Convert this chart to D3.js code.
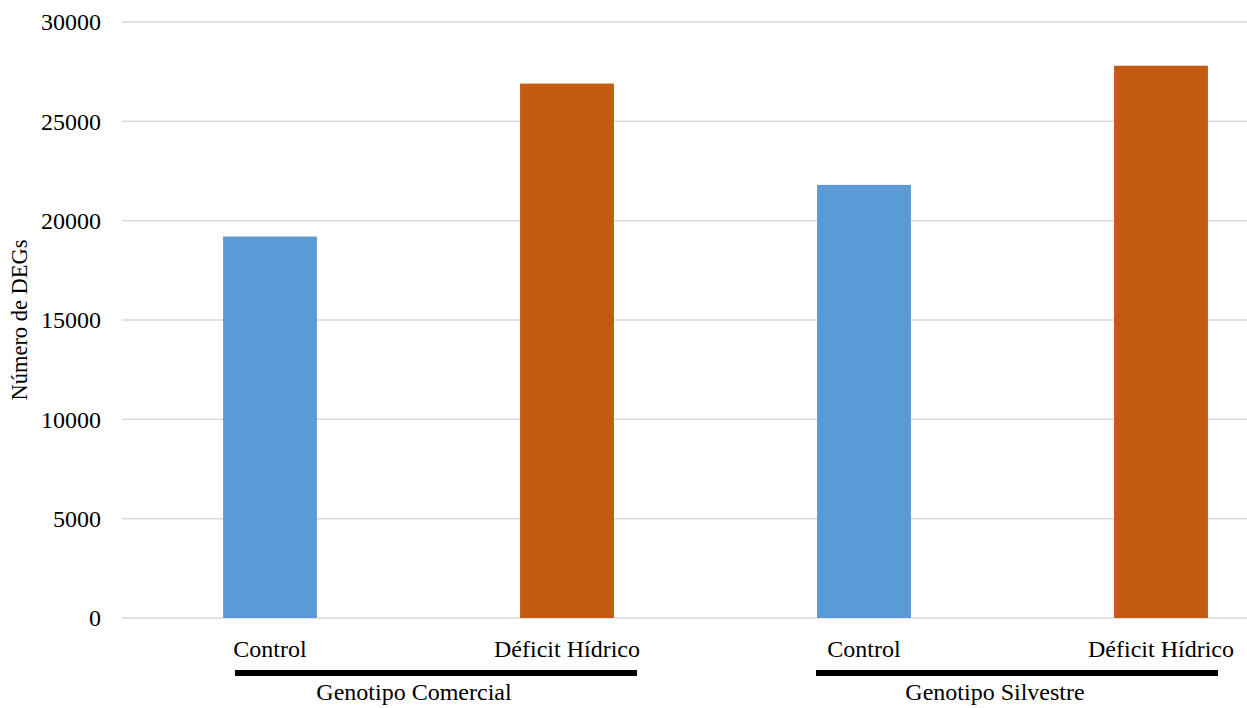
<!DOCTYPE html>
<html>
<head>
<meta charset="utf-8">
<script src="https://cdn.jsdelivr.net/npm/d3@7"></script>
<style>
  body { margin: 0; background: #fff; }
  text { font-family: "Liberation Serif", "Times New Roman", serif; fill: #000; }
</style>
</head>
<body>
<div id="chart"></div>
<script>
// data
var categories = ["Control", "Déficit Hídrico", "Control ", "Déficit Hídrico "];
var labels = ["Control", "Déficit Hídrico", "Control", "Déficit Hídrico"];
var values = [19200, 26900, 21800, 27800];
var colors = ["#5B9BD5", "#C55A11", "#5B9BD5", "#C55A11"];
var groups = ["Genotipo Comercial", "Genotipo Silvestre"];
var yTicks = [0, 5000, 10000, 15000, 20000, 25000, 30000];

var w = 1247, h = 708;
var margin = {left: 122, top: 22, bottom: 90};
var plotBottom = h - margin.bottom; // 618

var svg = d3.select("#chart").append("svg")
    .attr("width", w)
    .attr("height", h);

var x = d3.scaleBand()
    .domain(categories)
    .range([121.5, 1309.5])
    .paddingInner(0.684)
    .paddingOuter(0.342);

var y = d3.scaleLinear()
    .domain([0, 30000])
    .range([plotBottom, margin.top]);

// gridlines
svg.append("g").selectAll("line")
    .data(yTicks)
    .enter().append("line")
    .attr("x1", margin.left)
    .attr("x2", w)
    .attr("y1", d => y(d))
    .attr("y2", d => y(d))
    .attr("stroke", "#d9d9d9")
    .attr("stroke-width", 1.5);

// tick labels
svg.append("g").selectAll("text")
    .data(yTicks)
    .enter().append("text")
    .attr("x", 101)
    .attr("y", d => y(d))
    .attr("dy", "0.35em")
    .attr("text-anchor", "end")
    .style("font-size", "24px")
    .text(d => d);

// bars
svg.append("g").selectAll("rect")
    .data(values)
    .enter().append("rect")
    .attr("x", (d, i) => x(categories[i]))
    .attr("y", d => y(d))
    .attr("width", x.bandwidth())
    .attr("height", d => y(0) - y(d))
    .attr("fill", (d, i) => colors[i]);

// category labels
svg.append("g").selectAll("text")
    .data(categories)
    .enter().append("text")
    .attr("x", d => x(d) + x.bandwidth() / 2)
    .attr("y", 649)
    .attr("dy", "0.35em")
    .attr("text-anchor", "middle")
    .style("font-size", "24px")
    .text((d, i) => labels[i]);

// group bars and labels
var gOff = [[-35, 70], [-48, 57]];
groups.forEach((g, gi) => {
    var c1 = x(categories[gi * 2]) + x.bandwidth() / 2;
    var c2 = x(categories[gi * 2 + 1]) + x.bandwidth() / 2;
    var x1 = c1 + gOff[gi][0], x2 = c2 + gOff[gi][1];
    svg.append("line")
        .attr("x1", x1).attr("x2", x2)
        .attr("y1", 673).attr("y2", 673)
        .attr("stroke", "#000")
        .attr("stroke-width", 6);
    svg.append("text")
        .attr("x", (x1 + x2) / 2 - 22)
        .attr("y", 692)
        .attr("dy", "0.35em")
        .attr("text-anchor", "middle")
        .style("font-size", "24px")
        .text(g);
});

// y axis title
svg.append("text")
    .attr("transform", "translate(19, 320) rotate(-90)")
    .attr("dy", "0.35em")
    .attr("text-anchor", "middle")
    .style("font-size", "22.5px")
    .text("Número de DEGs");
</script>
</body>
</html>
